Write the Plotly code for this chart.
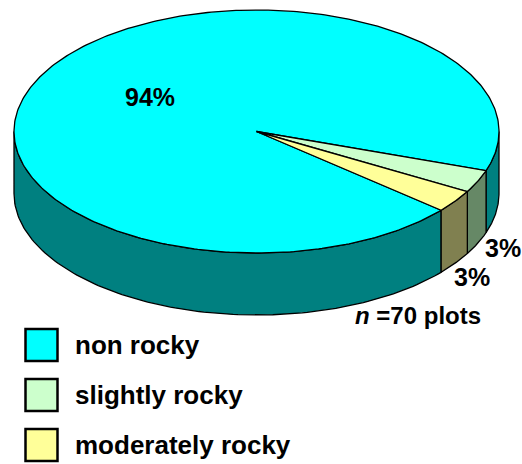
import numpy as np
import plotly.graph_objects as go

# ---- data ----
categories = ["non rocky", "slightly rocky", "moderately rocky"]
values = [94, 3, 3]
pct_labels = ["94%", "3%", "3%"]
top_colors = ["#00FFFF", "#CCFFCC", "#FFFF99"]
side_colors = ["#008080", "#668866", "#808050"]
note = "<b><i>n</i> =70 plots</b>"

# ---- geometry of the 3-D pie (pixel-like data space) ----
W, H = 522, 464
cx, cy = 256.5, 131.5
rx, ry = 242.5, 121.5
depth = 62
start_deg = -40.4   # math angle where first slice starts, going clockwise

def pt(a_deg, dz=0.0):
    a = np.radians(a_deg)
    return cx + rx * np.cos(a), cy - ry * np.sin(a) + dz

total = sum(values)
spans = [v / total * 360.0 for v in values]
bounds = []
a = start_deg
for s in spans:
    bounds.append((a, a - s))  # clockwise: decreasing angle
    a -= s

fig = go.Figure()

# side walls (front half only: sin<0)
for i, (a0, a1) in enumerate(bounds):
    hi, lo = a0, a1
    for k in range(-3, 3):
        vlo, vhi = -180 + 360 * k, 0 + 360 * k
        s_lo, s_hi = max(lo, vlo), min(hi, vhi)
        if s_hi - s_lo <= 1e-6:
            continue
        angs = np.linspace(s_hi, s_lo, 120)
        xs_t, ys_t = zip(*[pt(t) for t in angs])
        xs_b, ys_b = zip(*[pt(t, depth) for t in angs[::-1]])
        xs = list(xs_t) + list(xs_b) + [xs_t[0]]
        ys = list(ys_t) + list(ys_b) + [ys_t[0]]
        fig.add_trace(go.Scatter(x=xs, y=ys, mode="lines", fill="toself",
                                 fillcolor=side_colors[i],
                                 line=dict(color="black", width=1.3),
                                 hoverinfo="skip", showlegend=False))

# top faces
for i, (a0, a1) in enumerate(bounds):
    angs = np.linspace(a0, a1, 400)
    xs = [cx] + [pt(t)[0] for t in angs] + [cx]
    ys = [cy] + [pt(t)[1] for t in angs] + [cy]
    fig.add_trace(go.Scatter(x=xs, y=ys, mode="lines", fill="toself",
                             fillcolor=top_colors[i],
                             line=dict(color="black", width=1.3),
                             hoverinfo="skip", showlegend=False))

# percentage labels
label_pos = [(150, 97), (503, 248), (472, 277)]
for txt, (lx, ly) in zip(pct_labels, label_pos):
    fig.add_annotation(x=lx, y=ly, text=f"<b>{txt}</b>", showarrow=False,
                       font=dict(family="Liberation Sans, Arial", size=25, color="black"),
                       xanchor="center", yanchor="middle")

fig.add_annotation(x=418, y=315, text=note, showarrow=False,
                   font=dict(family="Liberation Sans, Arial", size=24, color="black"),
                   xanchor="center", yanchor="middle")

# manual legend
for i, name in enumerate(categories):
    yc = 345 + 50 * i
    fig.add_shape(type="rect", x0=25.5, x1=57.5, y0=yc - 16, y1=yc + 16,
                  xref="x", yref="y", fillcolor=top_colors[i],
                  line=dict(color="black", width=2.5))
    fig.add_annotation(x=73, y=yc, text=f"<b>{name}</b>", showarrow=False,
                       font=dict(family="Liberation Sans, Arial", size=26, color="black"),
                       xanchor="left", yanchor="middle")

fig.update_layout(width=W, height=H, margin=dict(l=0, r=0, t=0, b=0),
                  paper_bgcolor="white", plot_bgcolor="white",
                  xaxis=dict(range=[0, W], visible=False, fixedrange=True),
                  yaxis=dict(range=[H, 0], visible=False, fixedrange=True),
                  showlegend=False)

fig.write_html("out.html")
